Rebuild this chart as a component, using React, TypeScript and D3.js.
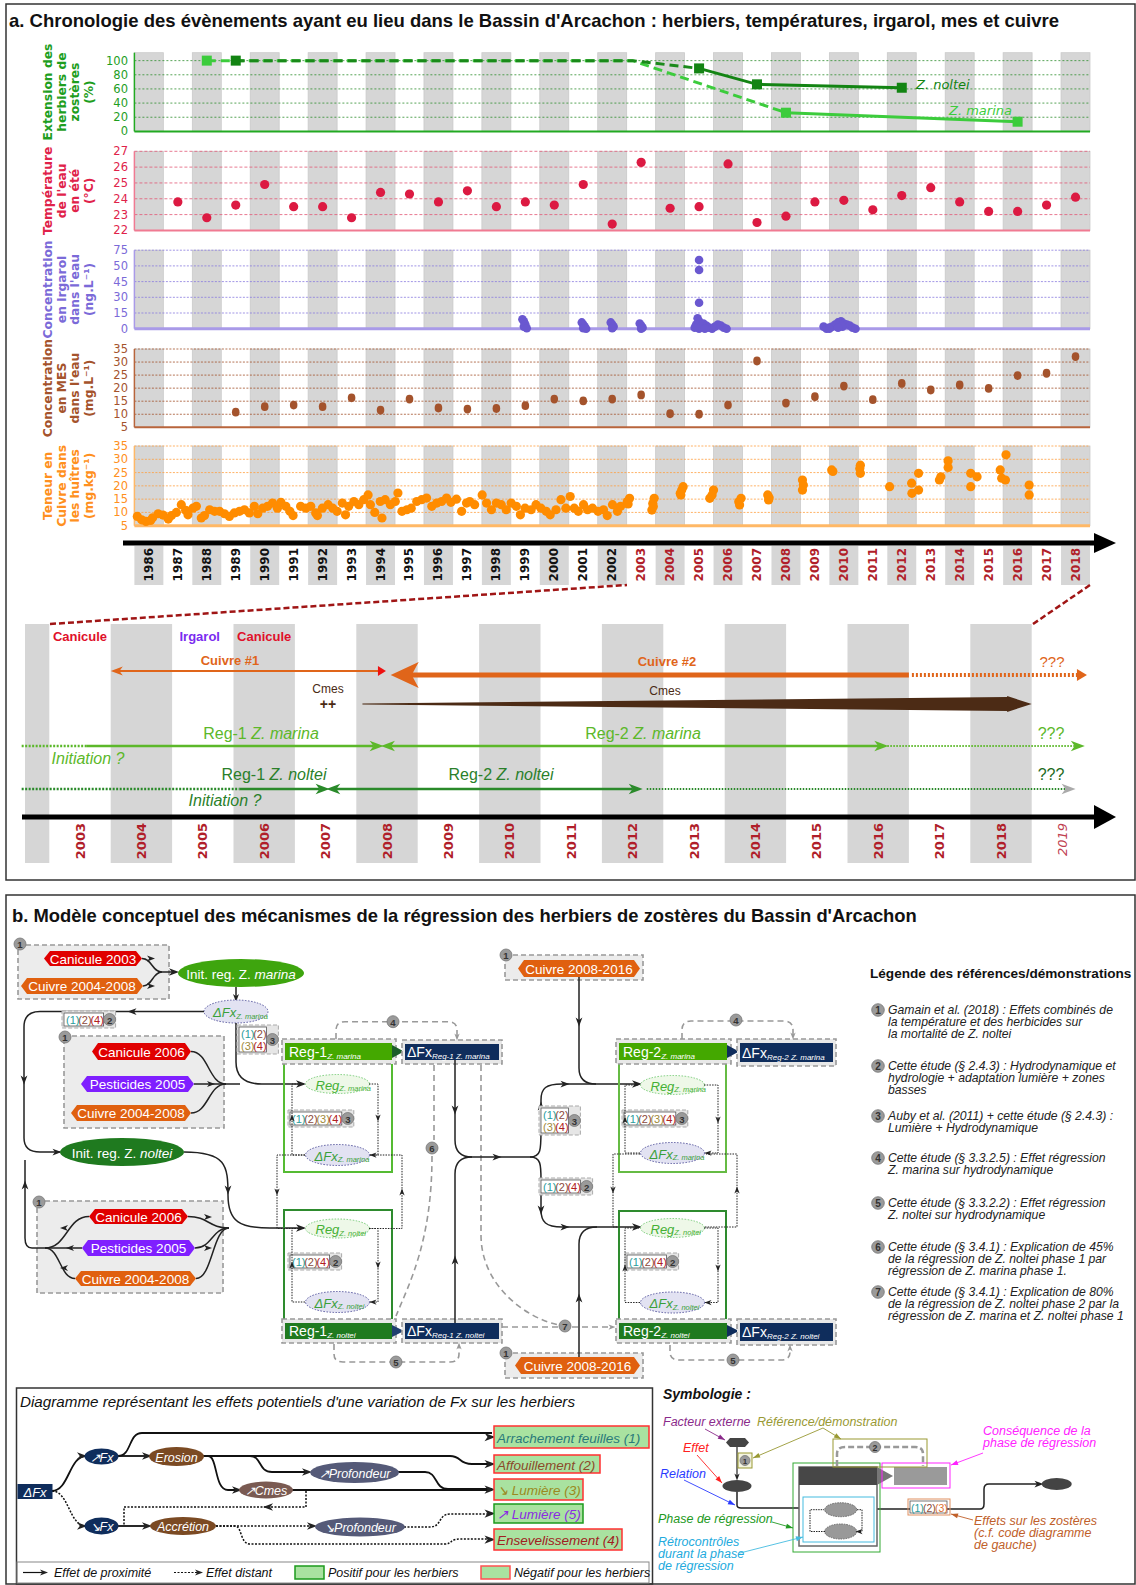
import React from 'react';
import * as d3 from 'd3';

const W = 1136;
const H = 1585;
const SANS = "'Liberation Sans', Arial, sans-serif";
const NARROW = "'Liberation Sans Narrow', 'Liberation Sans', Arial, sans-serif";
const DJ = "'DejaVu Sans', sans-serif";

// ---------- data : panel a ----------
const years = d3.range(1986, 2019);

const marinaYears = [1988, 2008, 2016];
const marinaValues = [100, 26.4, 13.7];
const nolteiYears = [1989, 2005, 2007, 2012];
const nolteiValues = [100, 89, 66.5, 61.7];
const declineStart = 2002.7; // both meadows stay at 100 % until here

const tempYears = d3.range(1987, 2019);
const tempValues = [23.8, 22.8, 23.6, 24.9, 23.5, 23.5, 22.8, 24.4, 24.3, 23.8, 24.5, 23.5, 23.8, 23.6, 24.9, 22.4,
  26.3, 23.4, 23.5, 26.2, 22.5, 22.9, 23.8, 23.9, 23.3, 24.2, 24.7, 23.8, 23.2, 23.2, 23.6, 24.1];

// irgarol samples: [decimal date, ng/L]
const irgarolSamples = [
  [1999.4, 9], [1999.45, 7], [1999.5, 4], [1999.45, 2], [1999.55, 0.5],
  [2001.45, 6], [2001.5, 4], [2001.55, 2], [2001.5, 0.5], [2001.6, 0],
  [2002.45, 6], [2002.5, 4], [2002.55, 2], [2002.5, 0.5],
  [2003.45, 5], [2003.5, 3], [2003.55, 1], [2003.5, 0],
  [2005.5, 59.5], [2005.5, 48.7], [2005.5, 24.8], [2005.45, 10], [2005.5, 7], [2005.4, 4], [2005.55, 2],
  [2005.5, 0], [2005.35, 1], [2005.65, 5], [2005.75, 3], [2005.85, 1], [2005.95, 0], [2006.05, 2],
  [2006.15, 4], [2006.25, 3], [2006.35, 1], [2006.45, 0], [2005.7, 0],
  [2009.8, 2], [2009.9, 0], [2010.0, 1], [2010.1, 2], [2010.2, 4], [2010.3, 6], [2010.4, 7], [2010.5, 5],
  [2010.6, 4], [2010.7, 3], [2010.8, 1], [2010.9, 0], [2010.0, 0], [2010.45, 2], [2010.3, 1],
];
const irgarolTicks = [0, 15, 30, 45, 50, 75];

const mesYears = d3.range(1989, 2019);
const mesValues = [10.8, 12.9, 13.5, 12.9, 16.3, 11.6, 15.8, 12.4, 12.0, 12.2, 13.3, 15.8, 15.1, 15.8, 17.4,
  10.2, 10.0, 13.5, 30.4, 14.3, 16.7, 20.8, 15.6, 21.8, 19.3, 21.2, 19.9, 24.8, 25.7, 32.1];

// copper in oysters: [decimal date, mg/kg]
const copperSamples = [
  [1986.10, 8.5], [1986.25, 7.2], [1986.40, 6.6], [1986.56, 7.0], [1986.63, 8.0], [1986.82, 9.5], [1986.99, 9.0],
  [1987.17, 7.5], [1987.28, 8.8], [1987.45, 10], [1987.62, 12.9], [1987.77, 10.8], [1987.85, 9.1],
  [1988.02, 11.6], [1988.14, 12.3], [1988.31, 7.9], [1988.42, 8.8], [1988.60, 11], [1988.77, 10.4], [1988.94, 10.4],
  [1989.11, 9.5], [1989.28, 8.5], [1989.45, 9.8], [1989.63, 10.4], [1989.80, 11], [1989.97, 9.8],
  [1990.14, 12.3], [1990.26, 9.5], [1990.43, 11.6], [1990.60, 12.3], [1990.77, 13.5], [1990.94, 11.6],
  [1991.06, 13.8], [1991.23, 12.3], [1991.37, 10.4], [1991.48, 8.8], [1991.74, 12.3], [1991.92, 11.6],
  [1992.09, 12.3], [1992.26, 9.8], [1992.32, 8.8], [1992.49, 11.6], [1992.69, 12.9], [1992.85, 11.6],
  [1993.00, 10.4], [1993.18, 13.5], [1993.29, 9.1], [1993.40, 12.3], [1993.58, 14.1], [1993.75, 12.9], [1993.92, 14.8],
  [1994.07, 16.6], [1994.15, 12.9], [1994.30, 10], [1994.49, 14.1], [1994.55, 7.9], [1994.66, 14.8], [1994.84, 12.9],
  [1995.01, 14.1], [1995.10, 17.3], [1995.24, 10.4], [1995.41, 11], [1995.56, 11.6], [1995.75, 14.1], [1995.92, 14.8],
  [1996.09, 15.4], [1996.27, 12.3], [1996.44, 13.5], [1996.61, 14.1], [1996.78, 15.4], [1996.93, 13.8],
  [1997.12, 15], [1997.30, 10.4], [1997.47, 13.5], [1997.58, 14.1], [1997.75, 12.9],
  [1998.01, 16.6], [1998.16, 13.5], [1998.33, 11], [1998.50, 13.5], [1998.67, 12.9], [1998.84, 11],
  [1999.01, 13.5], [1999.19, 12.3], [1999.33, 9.1], [1999.49, 11.6], [1999.70, 11], [1999.87, 12.9],
  [2000.04, 11.6], [2000.22, 10.4], [2000.36, 9.1], [2000.56, 11], [2000.73, 14.8], [2000.90, 11.6],
  [2001.05, 16], [2001.19, 11.6], [2001.33, 10.4], [2001.51, 12.9], [2001.65, 11], [2001.82, 11.6],
  [2002.01, 10.4], [2002.20, 11], [2002.33, 8.8], [2002.51, 12.9], [2002.68, 10.4], [2002.79, 12.3],
  [2003.02, 14.1], [2003.10, 15.3], [2003.05, 13.2],
  [2003.87, 10.9], [2003.90, 13.4], [2003.95, 15.3], [2003.92, 12.2],
  [2004.87, 16.6], [2004.90, 18.4], [2004.95, 19.7], [2004.85, 17.2],
  [2005.87, 15.3], [2006.00, 18.4], [2005.95, 16.6],
  [2006.87, 14], [2006.90, 12.8], [2006.95, 15.3],
  [2007.87, 16.6], [2007.90, 14.7], [2007.92, 15.5],
  [2009.07, 18.4], [2009.07, 22.2], [2009.10, 20.3],
  [2010.08, 26], [2010.12, 25.4],
  [2011.07, 27.8], [2011.07, 24.7], [2011.05, 26.5],
  [2012.08, 19.7], [2012.84, 21], [2012.85, 17.2], [2013.08, 24.7], [2013.08, 18.4],
  [2013.80, 22.2], [2013.85, 23.4], [2014.10, 29.4], [2014.10, 26.9],
  [2014.88, 24.7], [2014.88, 19.7], [2015.10, 23.4],
  [2015.90, 26], [2015.95, 22.9], [2016.10, 31.7], [2016.08, 22.2],
  [2016.90, 20.3], [2016.90, 16.6],
];

// ---------- data : zoomed timeline 2003-2019 ----------
const zoomYears = d3.range(2003, 2020);
const zoomEvents = [
  { label: 'Canicule', year: 2003.5, color: '#e0102a' },
  { label: 'Irgarol', year: 2005.45, color: '#7a2bf0' },
  { label: 'Canicule', year: 2006.5, color: '#e0102a' },
];
const cuivre1 = [2004.05, 2008.45];
const cuivre2 = [2008.56, 2017.0, 2019.9];
const cmesSpan = [2008.1, 2018.6, 2019.0];
const marinaPhases = { dottedStart: 2002.55, reg1: [2003.6, 2008.38], reg2: [2008.45, 2016.6], end: 2019.8 };
const nolteiPhases = { dottedStart: 2002.55, reg1: [2006.1, 2007.5], reg2: [2007.56, 2012.6], end: 2019.65 };

// ---------- data : legend of references ----------
const refLegend = [
  ['Gamain et al. (2018) : Effets combinés de', 'la température et des herbicides sur', 'la mortalité de Z. noltei'],
  ['Cette étude (§ 2.4.3) : Hydrodynamique et', 'hydrologie + adaptation lumière + zones', 'basses'],
  ['Auby et al. (2011) + cette étude (§ 2.4.3) :', 'Lumière + Hydrodynamique'],
  ['Cette étude (§ 3.3.2.5) : Effet régression', 'Z. marina sur hydrodynamique'],
  ['Cette étude (§ 3.3.2.2) : Effet régression', 'Z. noltei sur hydrodynamique'],
  ['Cette étude (§ 3.4.1) : Explication de 45%', 'de la régression de Z. noltei phase 1 par', 'régression de Z. marina phase 1.'],
  ['Cette étude (§ 3.4.1) : Explication de 80%', 'de la régression de Z. noltei phase 2 par la', 'régression de Z. marina et Z. noltei phase 1'],
];
const refLegendY = [1010, 1066, 1116, 1158, 1203, 1247, 1292];
const refColors = { 1: '#2a9d9d', 2: '#8b4a3a', 3: '#a08a3a', 4: '#b02020' };

// ---------- small drawing helpers ----------
const lk = (a, b) => d3.linkHorizontal()({ source: a, target: b });

const Tri = ({ x, y, dir = 'r', s = 5, fill = '#222' }) => {
  const a = { r: 0, d: 90, l: 180, u: -90 }[dir];
  return <polygon points={`${s},0 ${-s},${-s * 0.75} ${-s * 0.45},0 ${-s},${s * 0.75}`}
    transform={`translate(${x},${y}) rotate(${a})`} fill={fill} />;
};

const Badge = ({ x, y, n, r = 6 }) => (
  <g>
    <circle cx={x} cy={y} r={r} fill="#9a9a9a" stroke="#777" strokeWidth={0.8} />
    <text x={x} y={y + 0.5} textAnchor="middle" dominantBaseline="central" fontSize={r * 1.6}
      fontWeight="bold" fill="#333" fontFamily={SANS}>{n}</text>
  </g>
);

const DashBox = ({ x1, y1, x2, y2, fill = '#ececec' }) => (
  <rect x={x1} y={y1} width={x2 - x1} height={y2 - y1} fill={fill} stroke="#999" strokeWidth={1.6} strokeDasharray="5,3" />
);

const Hex = ({ x1, x2, y1, y2, fill, label, size = 13.5 }) => {
  const ym = (y1 + y2) / 2;
  const p = 6;
  return (
    <g>
      <polygon points={`${x1},${ym} ${x1 + p},${y1} ${x2 - p},${y1} ${x2},${ym} ${x2 - p},${y2} ${x1 + p},${y2}`} fill={fill} />
      <text x={(x1 + x2) / 2} y={ym + 0.5} textAnchor="middle" dominantBaseline="central" fill="#fff"
        fontSize={size} fontFamily={SANS}>{label}</text>
    </g>
  );
};

const RefBadge = ({ x, y, rows, n }) => {
  const cw = 12.2;
  const rh = 12;
  const w = Math.max(...rows.map(r => r.length)) * cw + 3;
  const h = rows.length * rh + 1;
  return (
    <g>
      <rect x={x - 2} y={y - 2} width={w + 14} height={h + 4} fill="#e6e6e6" stroke="#aaa" strokeDasharray="4,2" />
      <rect x={x} y={y} width={w} height={h} fill="#fff" stroke="#555" strokeWidth={0.8} />
      {rows.map((r, ri) => r.map((k, ki) => (
        <text key={`${ri}-${ki}`} x={x + 2 + ki * cw} y={y + rh * ri + rh / 2 + 1} dominantBaseline="central"
          fontSize={11} fill={refColors[k]} fontFamily={SANS}>({k})</text>
      )))}
      <Badge x={x + w + 6} y={y + h / 2} n={n} />
    </g>
  );
};

const RegEll = ({ cx, cy, sub, color = '#45b035' }) => (
  <g>
    <ellipse cx={cx} cy={cy} rx={32} ry={9.5} fill="#eef8e8" stroke="#7c7" strokeDasharray="1.5,1.5" />
    <text x={cx - 22} y={cy + 1} dominantBaseline="central" fontSize={13} fontStyle="italic" fill={color} fontFamily={SANS}>
      Reg<tspan fontSize={7.5} dy={3}>{sub}</tspan>
    </text>
  </g>
);

const FxEll = ({ cx, cy, sub, rx = 32, ry = 10.5 }) => (
  <g>
    <ellipse cx={cx} cy={cy} rx={rx} ry={ry} fill="#e2e2f2" stroke="#5a5aa0" strokeDasharray="1.5,1.5" />
    <text x={cx - rx + 9} y={cy + 1} dominantBaseline="central" fontSize={13} fontStyle="italic" fill="#3aa03a" fontFamily={SANS}>
      ΔFx<tspan fontSize={7.5} dy={3}>{sub}</tspan>
    </text>
  </g>
);

const Header = ({ x1, x2, y1, y2, fill, main, sub }) => (
  <g>
    <DashBox x1={x1 - 3} y1={y1 - 4} x2={x2 + 4} y2={y2 + 4} fill="#e8e8e8" />
    <rect x={x1} y={y1} width={x2 - x1} height={y2 - y1} fill={fill} />
    <text x={x1 + 4} y={(y1 + y2) / 2} dominantBaseline="central" fontSize={14} fill="#fff" fontFamily={SANS}>
      {main}<tspan fontSize={8} dy={4} fontStyle="italic">{sub}</tspan>
    </text>
  </g>
);

const NavyBox = ({ x1, x2, y1, y2, sub }) => (
  <g>
    <DashBox x1={x1 - 3} y1={y1 - 4} x2={x2 + 3} y2={y2 + 4} fill="#e8e8e8" />
    <rect x={x1} y={y1} width={x2 - x1} height={y2 - y1} fill="#0f2d5c" />
    <text x={x1 + 2} y={(y1 + y2) / 2} dominantBaseline="central" fontSize={14} fill="#fff" fontFamily={SANS}>
      ΔFx<tspan fontSize={8} dy={4} fontStyle="italic">{sub}</tspan>
    </text>
  </g>
);

const Chevron = ({ x, y1, y2, fill = '#1d5e2a' }) => (
  <polygon points={`${x},${y1 + 2} ${x + 12},${(y1 + y2) / 2} ${x},${y2 - 2}`} fill={fill} />
);

// ---------- panel a : time series ----------
const ChartA = () => {
  const x = d3.scaleLinear().domain([1986, 2019]).range([134.4, 1090]);
  const mid = (yr) => x(yr + 0.5);

  const panels = [
    {
      key: 'herb', y: d3.scaleLinear().domain([0, 111.2]).range([131.4, 52.7]), ticks: [0, 20, 40, 60, 80, 100],
      color: '#1e9e1e', grid: '#2f8f2f', dash: '2,2', axis: '#22aa22', axisW: 2,
      label: ['Extension des', 'herbiers de', 'zostères', '(%)'],
    },
    {
      key: 'temp', y: d3.scaleLinear().domain([22, 27]).range([230.4, 151.3]), ticks: [22, 23, 24, 25, 26, 27],
      color: '#e0224a', grid: '#e35a78', dash: '3,2', axis: '#f07a92', axisW: 2,
      label: ['Température', "de l'eau", 'en été', '(°C)'],
    },
    {
      key: 'irg', y: d3.scaleLinear().domain(irgarolTicks).range([328.7, 313, 297.3, 281.6, 265.9, 250.2]), ticks: irgarolTicks,
      color: '#7b6ad8', grid: '#8a7ce0', dash: '2,1.5', axis: '#a99ae8', axisW: 3,
      label: ['Concentration', 'en irgarol', "dans l'eau", '(ng.L⁻¹)'],
    },
    {
      key: 'mes', y: d3.scaleLinear().domain([5, 35]).range([427.3, 349]), ticks: [5, 10, 15, 20, 25, 30, 35],
      color: '#a4532c', grid: '#a4532c', dash: '2,1.5', axis: '#b8653c', axisW: 2,
      label: ['Concentration', 'en MES', "dans l'eau", '(mg.L⁻¹)'],
    },
    {
      key: 'cu', y: d3.scaleLinear().domain([5, 35]).range([525.7, 446]), ticks: [5, 10, 15, 20, 25, 30, 35],
      color: '#ff9020', grid: '#ffa040', dash: '2,1.5', axis: '#ffb866', axisW: 3,
      label: ['Teneur en', 'Cuivre dans', 'les huîtres', '(mg.kg⁻¹)'],
    },
  ];
  const P = Object.fromEntries(panels.map(p => [p.key, p]));
  const labelX = [48, 61.5, 75, 88.5];

  const lineGen = d3.line().x(d => d[0]).y(d => d[1]);
  const hy = P.herb.y;
  const marinaDash = [[mid(marinaYears[0]), hy(100)], [x(declineStart + 0.5), hy(100)], [mid(marinaYears[1]), hy(marinaValues[1])]];
  const nolteiDash = [[mid(nolteiYears[0]), hy(100)], [x(declineStart + 0.5), hy(100)], [mid(nolteiYears[1]), hy(nolteiValues[1])]];
  const marinaSolid = marinaYears.slice(1).map((yr, i) => [mid(yr), hy(marinaValues[i + 1])]);
  const nolteiSolid = nolteiYears.slice(1).map((yr, i) => [mid(yr), hy(nolteiValues[i + 1])]);

  return (
    <g>
      {panels.map(p => {
        const r = p.y.range();
        const y0 = r[0];
        const y1 = r[r.length - 1];
        const ym = (y0 + y1) / 2;
        return (
          <g key={p.key}>
            {years.filter(yr => yr % 2 === 0).map(yr => (
              <rect key={yr} x={x(yr)} y={y1} width={x(yr + 1) - x(yr)} height={y0 - y1} fill="#d6d6d6" stroke="#cacaca" strokeWidth={0.8} />
            ))}
            {p.ticks.slice(1).map(t => (
              <line key={t} x1={x(1986)} x2={x(2019)} y1={p.y(t)} y2={p.y(t)} stroke={p.grid} strokeWidth={1} strokeDasharray={p.dash} opacity={0.8} />
            ))}
            <line x1={x(1986)} x2={x(2019)} y1={y0} y2={y0} stroke={p.axis} strokeWidth={p.axisW} />
            <line x1={x(1986)} x2={x(1986)} y1={y1} y2={y0} stroke={p.axis} strokeWidth={1.5} />
            {p.ticks.map(t => (
              <text key={t} x={128} y={p.y(t)} textAnchor="end" dominantBaseline="central" fontSize={11.5}
                fill={p.color} fontFamily={DJ}>{t}</text>
            ))}
            {p.label.map((s, i) => (
              <text key={i} transform={`translate(${labelX[i]},${ym}) rotate(-90)`} textAnchor="middle"
                dominantBaseline="central" fontSize={12.3} fontWeight="bold" fill={p.color} fontFamily={DJ}>{s}</text>
            ))}
          </g>
        );
      })}

      {/* herbiers */}
      <path d={lineGen(marinaDash)} fill="none" stroke="#3ccc3c" strokeWidth={3} strokeDasharray="9,5" />
      <path d={lineGen(nolteiDash)} fill="none" stroke="#1a8a1a" strokeWidth={3} strokeDasharray="9,5" />
      <path d={lineGen(marinaSolid)} fill="none" stroke="#3ccc3c" strokeWidth={3} />
      <path d={lineGen(nolteiSolid)} fill="none" stroke="#138413" strokeWidth={3} />
      {marinaYears.map((yr, i) => (
        <rect key={yr} x={mid(yr) - 5} y={hy(marinaValues[i]) - 5} width={10} height={10} fill="#3ccc3c" />
      ))}
      {nolteiYears.map((yr, i) => (
        <rect key={yr} x={mid(yr) - 5} y={hy(nolteiValues[i]) - 5} width={10} height={10} fill="#138413" />
      ))}
      <text x={916} y={hy(66)} dominantBaseline="central" fontSize={13} fontStyle="italic" fill="#138413" fontFamily={DJ}>Z. noltei</text>
      <text x={949} y={hy(29)} dominantBaseline="central" fontSize={13} fontStyle="italic" fill="#3ccc3c" fontFamily={DJ}>Z. marina</text>

      {/* temperature */}
      {tempYears.map((yr, i) => (
        <circle key={yr} cx={mid(yr)} cy={P.temp.y(tempValues[i])} r={4.6} fill="#dc1a42" />
      ))}
      {/* irgarol */}
      {irgarolSamples.map((d, i) => (
        <circle key={i} cx={x(d[0])} cy={P.irg.y(d[1])} r={4.3} fill="#6a58d0" />
      ))}
      {/* MES */}
      {mesYears.map((yr, i) => (
        <ellipse key={yr} cx={mid(yr)} cy={P.mes.y(mesValues[i])} rx={3.8} ry={4.4} fill="#a4532c" />
      ))}
      {/* copper */}
      {copperSamples.map((d, i) => (
        <circle key={i} cx={x(d[0])} cy={P.cu.y(d[1])} r={4.6} fill="#ff8c00" />
      ))}

      {/* time axis */}
      {years.filter(yr => yr % 2 === 0).map(yr => (
        <rect key={yr} x={x(yr)} y={546} width={x(yr + 1) - x(yr)} height={39} fill="#d6d6d6" />
      ))}
      <line x1={123} x2={1098} y1={543} y2={543} stroke="#000" strokeWidth={5} />
      <polygon points="1094,533 1116,543 1094,553" fill="#000" />
      {years.map(yr => (
        <text key={yr} transform={`translate(${mid(yr)},548) rotate(-90)`} textAnchor="end" dominantBaseline="central"
          fontSize={12} fontWeight="bold" fill={yr < 2003 ? '#111' : '#b01e2a'} fontFamily={DJ}>{yr}</text>
      ))}
    </g>
  );
};

// ---------- zoomed timeline ----------
const Timeline = () => {
  const xl = d3.scaleLinear().domain([2003, 2020]).range([49.3, 1093.1]);
  const mid = (yr) => xl(yr + 0.5);
  const bandYears = [2002, ...zoomYears.filter(yr => yr % 2 === 0)];
  const mY = 746;
  const nY = 789;
  const c2 = cuivre2.map(xl);
  const cm = cmesSpan.map(xl);
  return (
    <g fontFamily={NARROW}>
      {bandYears.map(yr => {
        const a = Math.max(25, xl(yr));
        return <rect key={yr} x={a} y={624} width={xl(yr + 1) - a} height={239} fill="#d6d6d6" />;
      })}
      {/* zoom connectors */}
      <line x1={50} y1={624} x2={627} y2={585} stroke="#a01515" strokeWidth={2.5} strokeDasharray="6,3" />
      <line x1={1033} y1={624} x2={1090} y2={585} stroke="#a01515" strokeWidth={2.5} strokeDasharray="6,3" />

      {zoomEvents.map((e, i) => (
        <text key={i} x={xl(e.year)} y={636} textAnchor="middle" dominantBaseline="central" fontSize={13}
          fontWeight="bold" fill={e.color}>{e.label}</text>
      ))}

      {/* copper */}
      <text x={230} y={660} textAnchor="middle" dominantBaseline="central" fontSize={13} fontWeight="bold" fill="#e0651a">Cuivre #1</text>
      <line x1={xl(cuivre1[0]) + 4} x2={xl(cuivre1[1])} y1={671} y2={671} stroke="#e0651a" strokeWidth={2} />
      <Tri x={xl(cuivre1[0]) + 3} y={671} dir="l" s={6} fill="#e0651a" />
      <polygon points={`${xl(cuivre1[1]) - 6},666 ${xl(cuivre1[1]) + 2},671 ${xl(cuivre1[1]) - 6},676`} fill="#ee1111" />
      <text x={667} y={661} textAnchor="middle" dominantBaseline="central" fontSize={13} fontWeight="bold" fill="#e0651a">Cuivre #2</text>
      <line x1={c2[0] + 20} x2={c2[1]} y1={675} y2={675} stroke="#e0651a" strokeWidth={5} />
      <polygon points={`${c2[0]},675 ${c2[0] + 28},662 ${c2[0] + 21},675 ${c2[0] + 28},688`} fill="#e0651a" />
      <line x1={c2[1] + 3} x2={c2[2] - 8} y1={675} y2={675} stroke="#e0651a" strokeWidth={4} strokeDasharray="2,2" />
      <polygon points={`${c2[2] - 10},669 ${c2[2]},675 ${c2[2] - 10},681`} fill="#e0651a" />
      <text x={1052} y={661} textAnchor="middle" dominantBaseline="central" fontSize={15} fill="#e0651a">???</text>

      {/* MES */}
      <text x={328} y={689} textAnchor="middle" dominantBaseline="central" fontSize={12} fill="#4a2a14">Cmes</text>
      <text x={328} y={704} textAnchor="middle" dominantBaseline="central" fontSize={14} fontWeight="bold" fill="#4a2a14">++</text>
      <text x={665} y={691} textAnchor="middle" dominantBaseline="central" fontSize={12} fill="#4a2a14">Cmes</text>
      <polygon points={`${cm[0]},703.5 ${cm[1]},697 ${cm[1]},696 ${cm[2]},704 ${cm[1]},712 ${cm[1]},711 ${cm[0]},704.5`} fill="#4c2b15" />

      {/* Z. marina */}
      <text x={261} y={733} textAnchor="middle" dominantBaseline="central" fontSize={16} fill="#5cb82a">
        Reg-1 <tspan fontStyle="italic">Z. marina</tspan></text>
      <text x={643} y={733} textAnchor="middle" dominantBaseline="central" fontSize={16} fill="#5cb82a">
        Reg-2 <tspan fontStyle="italic">Z. marina</tspan></text>
      <text x={1051} y={733} textAnchor="middle" dominantBaseline="central" fontSize={16} fill="#5cb82a">???</text>
      <text x={88} y={758} textAnchor="middle" dominantBaseline="central" fontSize={16} fontStyle="italic" fill="#5cb82a">Initiation ?</text>
      <line x1={xl(marinaPhases.dottedStart)} x2={xl(marinaPhases.reg1[0])} y1={mY} y2={mY} stroke="#5cb82a" strokeWidth={2.5} strokeDasharray="2,1.5" />
      <line x1={xl(marinaPhases.reg1[0])} x2={xl(marinaPhases.reg1[1]) - 6} y1={mY} y2={mY} stroke="#5cb82a" strokeWidth={2.5} />
      <Tri x={xl(marinaPhases.reg1[1]) - 3} y={mY} s={7} fill="#5cb82a" />
      <Tri x={xl(marinaPhases.reg2[0]) + 4} y={mY} dir="l" s={7} fill="#5cb82a" />
      <line x1={xl(marinaPhases.reg2[0]) + 6} x2={xl(marinaPhases.reg2[1]) - 6} y1={mY} y2={mY} stroke="#5cb82a" strokeWidth={2.5} />
      <Tri x={xl(marinaPhases.reg2[1]) - 3} y={mY} s={7} fill="#5cb82a" />
      <line x1={xl(marinaPhases.reg2[1])} x2={xl(marinaPhases.end) - 6} y1={mY} y2={mY} stroke="#5cb82a" strokeWidth={2} strokeDasharray="1.5,1.5" />
      <Tri x={xl(marinaPhases.end) - 3} y={mY} s={7} fill="#5cb82a" />

      {/* Z. noltei */}
      <text x={274} y={774} textAnchor="middle" dominantBaseline="central" fontSize={16} fill="#2a7f2a">
        Reg-1 <tspan fontStyle="italic">Z. noltei</tspan></text>
      <text x={501} y={774} textAnchor="middle" dominantBaseline="central" fontSize={16} fill="#2a7f2a">
        Reg-2 <tspan fontStyle="italic">Z. noltei</tspan></text>
      <text x={1051} y={774} textAnchor="middle" dominantBaseline="central" fontSize={16} fill="#1d6b1d">???</text>
      <text x={225} y={800} textAnchor="middle" dominantBaseline="central" fontSize={16} fontStyle="italic" fill="#2a7f2a">Initiation ?</text>
      <line x1={xl(nolteiPhases.dottedStart)} x2={xl(nolteiPhases.reg1[0])} y1={nY} y2={nY} stroke="#2a8a2a" strokeWidth={2.5} strokeDasharray="2,1.5" />
      <line x1={xl(nolteiPhases.reg1[0])} x2={xl(nolteiPhases.reg1[1]) - 6} y1={nY} y2={nY} stroke="#2a8a2a" strokeWidth={2.5} />
      <Tri x={xl(nolteiPhases.reg1[1]) - 3} y={nY} s={7} fill="#2a8a2a" />
      <Tri x={xl(nolteiPhases.reg2[0]) + 4} y={nY} dir="l" s={7} fill="#2a8a2a" />
      <line x1={xl(nolteiPhases.reg2[0]) + 6} x2={xl(nolteiPhases.reg2[1]) - 6} y1={nY} y2={nY} stroke="#2a8a2a" strokeWidth={2.5} />
      <Tri x={xl(nolteiPhases.reg2[1]) - 3} y={nY} s={7} fill="#2a8a2a" />
      <line x1={xl(nolteiPhases.reg2[1]) + 8} x2={xl(nolteiPhases.end) - 6} y1={nY} y2={nY} stroke="#2a8a2a" strokeWidth={2} strokeDasharray="1.5,1.5" />
      <Tri x={xl(nolteiPhases.end) - 3} y={nY} s={7} fill="#aaa" />

      {/* axis */}
      <line x1={22} x2={1098} y1={817} y2={817} stroke="#000" strokeWidth={5} />
      <polygon points="1094,805 1116,817 1094,829" fill="#000" />
      {zoomYears.map(yr => (
        <text key={yr} transform={`translate(${mid(yr)},823) rotate(-90)`} textAnchor="end" dominantBaseline="central"
          fontSize={13} fontWeight={yr === 2019 ? 'normal' : 'bold'} fontStyle={yr === 2019 ? 'italic' : 'normal'}
          fill={yr === 2019 ? '#c04050' : '#b01e2a'} fontFamily={DJ}>{yr}</text>
      ))}
    </g>
  );
};

// ---------- panel b : conceptual model ----------
const ModelB = () => {
  const dash = { fill: 'none', stroke: '#999', strokeWidth: 1.6, strokeDasharray: '6,4' };
  const dot = { fill: 'none', stroke: '#222', strokeWidth: 1, strokeDasharray: '1.5,1.2' };
  const solid = { fill: 'none', stroke: '#222', strokeWidth: 1.5 };
  return (
    <g fontFamily={SANS}>
      {/* group 1 : canicule 2003 */}
      <DashBox x1={18} y1={945} x2={169} y2={999} />
      <Badge x={20} y={944} n={1} />
      <Hex x1={44} x2={142} y1={951} y2={966} fill="#e00000" label="Canicule 2003" />
      <Hex x1={21} x2={143} y1={978} y2={994} fill="#e0600f" label="Cuivre 2004-2008" />
      <path d={lk([142, 958.5], [162, 972])} {...solid} />
      <path d={lk([143, 986], [162, 972])} {...solid} />
      <path d="M162,972 L176,972" {...solid} />
      <Tri x={174} y={972} s={5} />
      <Tri x={151} y={958.5} s={4} />
      <Tri x={151} y={986} s={4} />

      <ellipse cx={241} cy={973} rx={63} ry={14} fill="#3ea50e" />
      <text x={241} y={974} textAnchor="middle" dominantBaseline="central" fontSize={13.5} fill="#fff">
        Init. reg. Z. <tspan fontStyle="italic">marina</tspan></text>
      <path d="M236,987 L236,999" {...solid} />
      <Tri x={236} y={998} dir="d" s={4} />
      <FxEll cx={236} cy={1011.5} sub="Z. marina" rx={32} ry={11.5} />

      {/* path to Init noltei */}
      <path d="M204,1011.5 L40,1011.5 Q24,1011.5 24,1027 L24,1138 Q24,1152 40,1152 L60,1152" {...solid} />
      <Tri x={132} y={1011.5} dir="l" s={4.5} />
      <Tri x={24} y={1080} dir="d" s={4.5} />
      <Tri x={57} y={1152} s={4.5} />
      <RefBadge x={64} y={1013} rows={[[1, 2, 4]]} n={2} />

      {/* path to Reg-1 marina */}
      <path d="M236,1023 L236,1062 Q236,1084 262,1084 L303,1084" {...solid} />
      <Tri x={301} y={1084} s={5} />
      <RefBadge x={239} y={1027} rows={[[1, 2], [3, 4]]} n={3} />

      {/* group 1 : 2005-2006 → marina */}
      <DashBox x1={64} y1={1036} x2={224} y2={1128} />
      <Badge x={65} y={1037} n={1} />
      <Hex x1={92} x2={191} y1={1043} y2={1060} fill="#e00000" label="Canicule 2006" />
      <Hex x1={81} x2={194} y1={1076} y2={1092} fill="#7f1fff" label="Pesticides 2005" />
      <Hex x1={71} x2={191} y1={1105} y2={1121} fill="#e0600f" label="Cuivre 2004-2008" />
      <path d={lk([191, 1051.5], [226, 1084])} {...solid} />
      <path d={lk([194, 1084], [226, 1084])} {...solid} />
      <path d={lk([191, 1113], [226, 1084])} {...solid} />
      <path d="M226,1084 L240,1084" {...solid} />
      <Tri x={211} y={1084} s={4} />

      {/* Init noltei */}
      <ellipse cx={122} cy={1152} rx={62} ry={14} fill="#1f7a1f" />
      <text x={122} y={1153} textAnchor="middle" dominantBaseline="central" fontSize={13.5} fill="#fff">
        Init. reg. Z. <tspan fontStyle="italic">noltei</tspan></text>
      <path d="M184,1152 C226,1152 228,1165 228,1195 C228,1222 240,1228 270,1228 L303,1228" {...solid} />
      <Tri x={228} y={1190} dir="d" s={4.5} />
      <Tri x={301} y={1228} s={5} />

      {/* group 1 : 2005-2006 → noltei */}
      <DashBox x1={37} y1={1201} x2={223} y2={1293} />
      <Badge x={39} y={1202} n={1} />
      <Hex x1={89} x2={188} y1={1209} y2={1224} fill="#e00000" label="Canicule 2006" />
      <Hex x1={82} x2={195} y1={1240} y2={1256} fill="#7f1fff" label="Pesticides 2005" />
      <Hex x1={75} x2={196} y1={1271} y2={1286} fill="#e0600f" label="Cuivre 2004-2008" />
      <path d={lk([188, 1216.5], [229, 1228])} {...solid} />
      <path d={lk([195, 1248], [229, 1228])} {...solid} />
      <path d={lk([196, 1278.5], [229, 1228])} {...solid} />
      <path d={lk([89, 1216.5], [45, 1248])} {...solid} />
      <path d={lk([82, 1248], [45, 1248])} {...solid} />
      <path d={lk([75, 1278.5], [45, 1248])} {...solid} />
      <path d="M45,1248 L32,1248 Q25,1248 25,1238 L25,1160" {...solid} />
      <Tri x={25} y={1185} dir="u" s={4.5} />
      <Tri x={208} y={1217} s={4} />
      <Tri x={208} y={1248} s={4} />
      <Tri x={70} y={1248} dir="l" s={4} />
      <Tri x={64} y={1228} dir="l" s={4} />
      <Tri x={64} y={1268} dir="l" s={4} />

      {/* ===== Reg-1 blocks ===== */}
      <rect x={284} y={1043} width={108} height={129} fill="none" stroke="#55bb33" strokeWidth={2} />
      <Header x1={285} x2={392} y1={1043} y2={1060} fill="#44a800" main="Reg-1" sub="Z. marina" />
      <Chevron x={392} y1={1043} y2={1060} />
      <NavyBox x1={405} x2={499} y1={1044} y2={1060} sub="Reg-1 Z. marina" />
      <RegEll cx={337.5} cy={1084} sub="Z. marina" />
      <RefBadge x={290} y={1112} rows={[[1, 2, 3, 4]]} n={3} />
      <FxEll cx={337.5} cy={1155} sub="Z. marina" />
      <path d="M369,1084 L378,1084 L378,1155 L370,1155" {...dot} />
      <Tri x={378} y={1118} dir="d" s={3.5} />
      <Tri x={373} y={1155} dir="l" s={3.5} />
      <path d="M305,1155 L292,1155 L292,1084 L304,1084" {...dot} />
      <Tri x={292} y={1118} dir="u" s={3.5} />

      <rect x={284} y={1210} width={108} height={129} fill="none" stroke="#2e8b2e" strokeWidth={2} />
      <RegEll cx={337.5} cy={1228.5} sub="Z. noltei" />
      <RefBadge x={290} y={1255} rows={[[1, 2, 4]]} n={2} />
      <FxEll cx={337.5} cy={1302} sub="Z. noltei" />
      <path d="M369,1228.5 L378,1228.5 L378,1302 L370,1302" {...dot} />
      <Tri x={378} y={1265} dir="d" s={3.5} />
      <Tri x={373} y={1302} dir="l" s={3.5} />
      <path d="M305,1302 L292,1302 L292,1228.5 L304,1228.5" {...dot} />
      <Tri x={292} y={1265} dir="u" s={3.5} />
      <Header x1={285} x2={392} y1={1323} y2={1339} fill="#1f7a1f" main="Reg-1" sub="Z. noltei" />
      <Chevron x={392} y1={1323} y2={1339} fill="#1f3f6f" />
      <NavyBox x1={405} x2={499} y1={1323} y2={1339} sub="Reg-1 Z. noltei" />

      {/* inter-block feedback Reg-1 */}
      <path d="M305,1155 L277,1155 L277,1228.5 L305,1228.5" {...dot} />
      <Tri x={277} y={1192} dir="d" s={3.5} />
      <path d="M369,1228.5 L402,1228.5 L402,1155 L370,1155" {...dot} />
      <Tri x={402} y={1192} dir="u" s={3.5} />

      {/* "4" and "5" arcs, Reg-1 */}
      <path d="M336,1039 L336,1030 Q336,1021.7 345,1021.7 L448,1021.7 Q457,1021.7 457,1030 L457,1038" {...dash} />
      <Tri x={457} y={1037} dir="d" s={3.5} fill="#999" />
      <Badge x={393} y={1021.7} n={4} />
      <path d="M334,1344 L334,1354 Q334,1362 343,1362 L450,1362 Q459,1362 459,1354 L459,1345" {...dash} />
      <Tri x={459} y={1346} dir="u" s={3.5} fill="#999" />
      <Badge x={396} y={1362} n={5} />

      {/* "6" and "7" */}
      <path d="M434,1065 L434,1140" {...dash} />
      <path d="M432,1156 C432,1240 410,1282 396,1316" {...dash} />
      <Badge x={432} y={1148} n={6} />
      <path d="M481,1065 L481,1235 C481,1285 525,1318 559,1325" {...dash} />
      <path d="M502,1327 L613,1327" {...dash} />
      <Tri x={612} y={1327} s={3.5} fill="#999" />
      <Badge x={565} y={1326} n={7} />

      {/* solid links from Reg-1 ΔFx to Reg-2 */}
      <path d="M455,1060 L455,1140 Q455,1157 472,1157 L530,1157" {...solid} />
      <path d="M455,1323 L455,1174 Q455,1157 472,1157" {...solid} />
      <Tri x={455} y={1110} dir="d" s={4.5} />
      <Tri x={455} y={1260} dir="u" s={4.5} />
      <Tri x={497} y={1157} s={4.5} />
      <path d="M530,1157 C541,1157 541,1150 541,1130 L541,1100 C541,1088 546,1084 562,1084 L638,1084" {...solid} />
      <path d="M530,1157 C541,1157 541,1165 541,1180 L541,1210 C541,1222 546,1227 562,1227 L638,1227" {...solid} />
      <Tri x={565} y={1084} s={4.5} />
      <Tri x={565} y={1227} s={4.5} />
      <Tri x={541} y={1106} dir="u" s={4.5} />
      <Tri x={541} y={1210} dir="d" s={4.5} />
      <Tri x={637} y={1084} s={5} />
      <Tri x={637} y={1227} s={5} />
      <RefBadge x={541} y={1108} rows={[[1, 2], [3, 4]]} n={3} />
      <RefBadge x={541} y={1180} rows={[[1, 2, 4]]} n={2} />

      {/* Cuivre 2008-2016 */}
      <DashBox x1={505} y1={955} x2={643} y2={980} />
      <Badge x={506} y={955} n={1} />
      <Hex x1={518} x2={640} y1={960} y2={977} fill="#e0600f" label="Cuivre 2008-2016" />
      <path d="M579,977 L579,1068 Q579,1084 596,1084" {...solid} />
      <Tri x={579} y={1022} dir="d" s={4.5} />
      <DashBox x1={505} y1={1353} x2={643} y2={1378} />
      <Badge x={506} y={1353} n={1} />
      <Hex x1={515} x2={640} y1={1357} y2={1374} fill="#e0600f" label="Cuivre 2008-2016" />
      <path d="M579,1357 L579,1244 Q579,1227 597,1227" {...solid} />
      <Tri x={579} y={1298} dir="u" s={4.5} />

      {/* ===== Reg-2 blocks ===== */}
      <rect x={619} y={1043} width={107} height={129} fill="none" stroke="#66bb44" strokeWidth={2} />
      <Header x1={619} x2={727} y1={1043} y2={1060} fill="#44a800" main="Reg-2" sub="Z. marina" />
      <Chevron x={727} y1={1043} y2={1060} fill="#0f2d5c" />
      <NavyBox x1={740} x2={833} y1={1043} y2={1062} sub="Reg-2 Z. marina" />
      <RegEll cx={672.5} cy={1085} sub="Z. marina" />
      <RefBadge x={624} y={1112} rows={[[1, 2, 3, 4]]} n={3} />
      <FxEll cx={672.5} cy={1153} sub="Z. marina" />
      <path d="M704,1085 L718,1085 L718,1153 L705,1153" {...dot} />
      <Tri x={718} y={1120} dir="d" s={3.5} />
      <Tri x={708} y={1153} dir="l" s={3.5} />
      <path d="M640,1153 L625,1153 L625,1085 L639,1085" {...dot} />
      <Tri x={625} y={1120} dir="u" s={3.5} />

      <rect x={619} y={1211} width={107} height={128} fill="none" stroke="#2e8b2e" strokeWidth={2} />
      <RegEll cx={672.5} cy={1228} sub="Z. noltei" />
      <RefBadge x={627} y={1255} rows={[[1, 2, 4]]} n={2} />
      <FxEll cx={672.5} cy={1302.5} sub="Z. noltei" />
      <path d="M704,1228 L718,1228 L718,1302.5 L705,1302.5" {...dot} />
      <Tri x={718} y={1268} dir="d" s={3.5} />
      <Tri x={708} y={1302.5} dir="l" s={3.5} />
      <path d="M640,1302.5 L625,1302.5 L625,1228 L639,1228" {...dot} />
      <Tri x={625} y={1268} dir="u" s={3.5} />
      <Header x1={619} x2={727} y1={1323} y2={1339} fill="#1f7a1f" main="Reg-2" sub="Z. noltei" />
      <Chevron x={727} y1={1323} y2={1339} fill="#0f2d5c" />
      <NavyBox x1={740} x2={833} y1={1323} y2={1341} sub="Reg-2 Z. noltei" />

      <path d="M640,1154 L613,1154 L613,1227 L620,1227" {...dot} />
      <Tri x={613} y={1190} dir="d" s={3.5} />
      <path d="M705,1227 L737,1227 L737,1154 L706,1154" {...dot} />
      <Tri x={737} y={1190} dir="u" s={3.5} />

      <path d="M682,1039 L682,1030 Q682,1021 691,1021 L784,1021 Q793,1021 793,1030 L793,1037" {...dash} />
      <Tri x={793} y={1036} dir="d" s={3.5} fill="#999" />
      <Badge x={736} y={1020} n={4} />
      <path d="M670,1345 L670,1352 Q670,1360 679,1360 L781,1360 Q790,1360 790,1352 L790,1347" {...dash} />
      <Tri x={790} y={1348} dir="u" s={3.5} fill="#999" />
      <Badge x={733} y={1360} n={5} />

      {/* legend of references */}
      <text x={870} y={973} dominantBaseline="central" fontSize={13.6} fontWeight="bold" fill="#111">Légende des références/démonstrations</text>
      {refLegend.map((lines, i) => (
        <g key={i}>
          <Badge x={878} y={refLegendY[i]} n={i + 1} r={6.3} />
          {lines.map((s, j) => (
            <text key={j} x={888} y={refLegendY[i] + j * 12} dominantBaseline="central" fontSize={12.2}
              fontStyle="italic" fill="#222">{s}</text>
          ))}
        </g>
      ))}
    </g>
  );
};

// ---------- Fx diagram (bottom left) ----------
const FxDiagram = () => {
  const solid = { fill: 'none', stroke: '#111', strokeWidth: 1.8 };
  const dot = { fill: 'none', stroke: '#111', strokeWidth: 1.5, strokeDasharray: '2,1.5' };
  const out = [
    { label: 'Arrachement feuilles (1)', y1: 1426, y2: 1448, x2: 649, color: '#2a7a7a', border: '#ff3030' },
    { label: 'Affouillement (2)', y1: 1455, y2: 1473, x2: 600, color: '#8b4a2a', border: '#ff3030' },
    { label: '↘ Lumière (3)', y1: 1479, y2: 1500, x2: 583, color: '#9a8a20', border: '#ff3030' },
    { label: '↗ Lumière (5)', y1: 1504, y2: 1523, x2: 583, color: '#8a2be2', border: '#1d9a1d' },
    { label: 'Ensevelissement (4)', y1: 1529, y2: 1550, x2: 622, color: '#a02020', border: '#ff3030' },
  ];
  const ell = (cx, cy, rx, ry, fill, label) => (
    <g>
      <ellipse cx={cx} cy={cy} rx={rx} ry={ry} fill={fill} />
      <text x={cx} y={cy + 1} textAnchor="middle" dominantBaseline="central" fontSize={12.5} fontStyle="italic" fill="#fff">{label}</text>
    </g>
  );
  return (
    <g fontFamily={SANS}>
      <rect x={16.5} y={1388} width={636} height={196} fill="none" stroke="#333" strokeWidth={1.5} />
      <text x={20} y={1407} fontSize={15.2} fontStyle="italic" fill="#111">Diagramme représentant les effets potentiels d'une variation de Fx sur les herbiers</text>

      {/* links */}
      <path d={lk([52, 1491], [86, 1456])} {...solid} />
      <path d={lk([52, 1491], [86, 1526])} {...dot} />
      <path d="M118,1456 L150,1456" {...solid} />
      <path d="M118,1456 C132,1456 128,1433 142,1433 L492,1433" {...solid} />
      <path d="M203,1456 L450,1456 C462,1456 458,1464 472,1464 L492,1464" {...solid} />
      <path d="M250,1456 C262,1456 258,1472 272,1472 L309,1472" {...solid} />
      <path d="M208,1456 C218,1456 214,1490 228,1490 L239,1490" {...solid} />
      <path d="M398,1472 L425,1472 C438,1472 434,1489 448,1489 L492,1489" {...solid} />
      <path d="M292,1490 L492,1490" {...solid} />
      <path d="M306,1491 L306,1507 L124,1507 L124,1526" {...dot} />
      <path d="M118,1526 L149,1526" {...solid} />
      <path d="M216,1526 L314,1526" {...dot} />
      <path d="M404,1527 L430,1527 C442,1527 438,1514 450,1514 L492,1514" {...dot} />
      <path d="M216,1526 L235,1526 C242,1526 240,1544 250,1544 L445,1544 C452,1544 450,1539 460,1539 L492,1539" {...dot} />
      <Tri x={82} y={1456} s={5} />
      <Tri x={82} y={1526} s={5} />
      <Tri x={147} y={1456} s={5} />
      <Tri x={147} y={1526} s={5} />
      <Tri x={237} y={1490} s={5} />
      <Tri x={307} y={1472} s={5} />
      <Tri x={312} y={1526} s={5} />
      <Tri x={268} y={1507} dir="l" s={5} />
      {out.map(o => <Tri key={o.label} x={490} y={(o.y1 + o.y2) / 2} s={5.5} />)}

      <rect x={17.5} y={1484} width={35} height={15} fill="#0f2d5c" />
      <text x={35} y={1492} textAnchor="middle" dominantBaseline="central" fontSize={13} fontStyle="italic" fill="#fff">ΔFx</text>
      {ell(101.5, 1456.5, 17, 8, '#0f2d5c', '↗Fx')}
      {ell(101.5, 1526, 17, 8.5, '#0f2d5c', '↘Fx')}
      {ell(176.5, 1456.5, 27.5, 9.5, '#7b4a23', 'Erosion')}
      {ell(266, 1490, 27, 8.5, '#7a5a52', '↗Cmes')}
      {ell(354.6, 1472.5, 44.5, 10.5, '#555a78', '↗Profondeur')}
      {ell(183, 1526, 33, 9, '#7b4a23', 'Accrétion')}
      {ell(360, 1527, 45, 9.5, '#555a78', '↘Profondeur')}

      {out.map(o => (
        <g key={o.label}>
          <rect x={494} y={o.y1} width={o.x2 - 494} height={o.y2 - o.y1} fill="#a9e2a0" stroke={o.border} strokeWidth={1.5} />
          <text x={497} y={(o.y1 + o.y2) / 2 + 1} dominantBaseline="central" fontSize={13.5} fontStyle="italic" fill={o.color}>{o.label}</text>
        </g>
      ))}

      {/* key */}
      <rect x={17} y={1562} width={632} height={21} fill="none" stroke="#888" strokeWidth={1} />
      <path d="M23,1572.5 L44,1572.5" {...solid} strokeWidth={1.2} />
      <Tri x={44} y={1572.5} s={4} />
      <text x={54} y={1573} dominantBaseline="central" fontSize={12.5} fontStyle="italic" fill="#111">Effet de proximité</text>
      <path d="M174,1572.5 L198,1572.5" {...dot} strokeWidth={1.2} />
      <Tri x={199} y={1572.5} s={4} />
      <text x={206} y={1573} dominantBaseline="central" fontSize={12.5} fontStyle="italic" fill="#111">Effet distant</text>
      <rect x={295} y={1566} width={29} height={13} fill="#a9e2a0" stroke="#1d9a1d" strokeWidth={1.5} />
      <text x={328} y={1573} dominantBaseline="central" fontSize={12.5} fontStyle="italic" fill="#111">Positif pour les herbiers</text>
      <rect x={481} y={1566} width={29} height={13} fill="#a9e2a0" stroke="#ff5050" strokeWidth={1.5} />
      <text x={514} y={1573} dominantBaseline="central" fontSize={12.5} fontStyle="italic" fill="#111">Négatif pour les herbiers</text>
    </g>
  );
};

// ---------- symbology (bottom right) ----------
const Symbology = () => {
  const t = (x, y, s, color, size = 12.5) => (
    <text x={x} y={y} dominantBaseline="central" fontSize={size} fontStyle="italic" fill={color}>{s}</text>
  );
  const ptr = (x1, y1, x2, y2, color) => {
    const a = (Math.atan2(y2 - y1, x2 - x1) * 180) / Math.PI;
    return (
      <g>
        <line x1={x1} y1={y1} x2={x2} y2={y2} stroke={color} strokeWidth={0.9} />
        <polygon points="0,0 -7,-2.5 -7,2.5" transform={`translate(${x2},${y2}) rotate(${a})`} fill={color} />
      </g>
    );
  };
  return (
    <g fontFamily={SANS}>
      <text x={663} y={1399} fontSize={14} fontWeight="bold" fontStyle="italic" fill="#111">Symbologie :</text>
      {t(663, 1422, 'Facteur externe', '#8a2a8a')}
      {t(757, 1422, 'Référence/démonstration', '#999933')}
      {t(983, 1431, 'Conséquence de la', '#ff22ff')}
      {t(983, 1443, 'phase de régression', '#ff22ff')}
      {t(683, 1448, 'Effet', '#ff2020')}
      {t(660, 1474, 'Relation', '#2a3aff')}
      {t(658, 1519, 'Phase de régression', '#229922')}
      {t(658, 1542, 'Rétrocontrôles', '#22aadd')}
      {t(658, 1554, 'durant la phase', '#22aadd')}
      {t(658, 1566, 'de régression', '#22aadd')}
      {t(974, 1521, 'Effets sur les zostères', '#c0602a')}
      {t(974, 1533, '(c.f. code diagramme', '#c0602a')}
      {t(974, 1545, 'de gauche)', '#c0602a')}

      {/* drawing */}
      <polygon points="726,1442.5 730,1438 745,1438 749,1442.5 745,1447 730,1447" fill="#444" />
      <line x1={737} y1={1447} x2={737} y2={1478} stroke="#222" strokeWidth={1.2} />
      <Tri x={737} y={1477} dir="d" s={3.5} />
      <rect x={738} y={1453} width={14} height={15} fill="#f4f4e0" stroke="#999933" strokeWidth={1} />
      <Badge x={745} y={1460.5} n={1} r={5} />
      <ellipse cx={737} cy={1486} rx={14.5} ry={6} fill="#444" />
      <path d="M737,1492 L737,1505 Q737,1508 741,1508 L822,1508" fill="none" stroke="#222" strokeWidth={1.5} />
      <Tri x={822} y={1508} s={4} />
      <path d="M857,1509 L980,1509 Q984,1509 984,1504 L984,1489 Q984,1484 989,1484 L1040,1484" fill="none" stroke="#222" strokeWidth={1.5} />
      <Tri x={1039} y={1484} s={4.5} />
      <ellipse cx={1056.7} cy={1484} rx={15} ry={6} fill="#444" />

      <rect x={793} y={1463} width={87} height={89} fill="none" stroke="#33aa33" strokeWidth={1} />
      <rect x={799} y={1467} width={78} height={79} fill="#fff" stroke="#666" strokeWidth={1.5} />
      <rect x={799} y={1467} width={78} height={18} fill="#474747" />
      <polygon points="877,1467 893,1476 877,1485" fill="#777" />
      <rect x={894} y={1467} width={53} height={18} fill="#9a9a9a" />
      <rect x={882} y={1463} width={68} height={25} fill="none" stroke="#ff22ff" strokeWidth={1} />
      <rect x={803} y={1497} width={71} height={45} fill="none" stroke="#44bbe0" strokeWidth={1} />
      <ellipse cx={840.7} cy={1509.7} rx={16} ry={7} fill="#999" stroke="#666" strokeDasharray="1.5,1" />
      <ellipse cx={840.7} cy={1531.5} rx={16} ry={7.5} fill="#999" stroke="#666" strokeDasharray="1.5,1" />
      <path d="M857,1509.7 L862,1509.7 L862,1531.5 L857,1531.5" fill="none" stroke="#222" strokeDasharray="1.5,1" />
      <Tri x={859} y={1531.5} dir="l" s={3.5} />
      <path d="M825,1531.5 L810,1531.5 L810,1509.7 L824,1509.7" fill="none" stroke="#222" strokeDasharray="1.5,1" />

      <rect x={833} y={1439} width={94} height={28} fill="none" stroke="#999933" strokeWidth={1} />
      <path d="M837,1466 L837,1454 Q837,1447 845,1447 L915,1447 Q923,1447 923,1454 L923,1466" fill="none" stroke="#999" strokeWidth={2.5} strokeDasharray="6,3" />
      <Badge x={875} y={1447} n={2} r={5.5} />

      <rect x={908} y={1499} width={42} height={16} fill="none" stroke="#e09060" strokeWidth={1} />
      <rect x={910} y={1501} width={37} height={12} fill="#fff" stroke="#555" strokeWidth={0.8} />
      {[1, 2, 3].map((k, i) => (
        <text key={k} x={911 + i * 12} y={1507.5} dominantBaseline="central" fontSize={10.5} fill={k === 3 ? '#e07030' : refColors[k]}>({k})</text>
      ))}

      {ptr(705, 1429, 725, 1440, '#8a2a8a')}
      {ptr(823, 1428, 753, 1458, '#999933')}
      {ptr(823, 1428, 841, 1439, '#999933')}
      {ptr(697, 1455, 722, 1483, '#ff2020')}
      {ptr(684, 1480, 735, 1505, '#2a3aff')}
      {ptr(772, 1522, 793, 1528, '#229922')}
      {ptr(740, 1553, 803, 1537, '#44bbe0')}
      {ptr(983, 1453, 951, 1465, '#ff22ff')}
      {ptr(973, 1520, 951, 1514, '#c0602a')}
    </g>
  );
};

export default function App() {
  return (
    <svg width={W} height={H} viewBox={`0 0 ${W} ${H}`} style={{ position: 'absolute', left: 0, top: 0, background: '#fff' }}>
      <rect x={0} y={0} width={W} height={H} fill="#fff" />
      {/* panel a */}
      <rect x={6} y={4} width={1129} height={876} fill="none" stroke="#333" strokeWidth={1.5} />
      <text x={9} y={27} fontSize={18.5} fontWeight="bold" fill="#111" fontFamily={SANS}>
        a. Chronologie des évènements ayant eu lieu dans le Bassin d'Arcachon : herbiers, températures, irgarol, mes et cuivre
      </text>
      <ChartA />
      <Timeline />
      {/* panel b */}
      <rect x={6} y={895} width={1129} height={689} fill="none" stroke="#333" strokeWidth={1.5} />
      <text x={12} y={922} fontSize={18.4} fontWeight="bold" fill="#111" fontFamily={SANS}>
        b. Modèle conceptuel des mécanismes de la régression des herbiers de zostères du Bassin d'Arcachon
      </text>
      <ModelB />
      <FxDiagram />
      <Symbology />
    </svg>
  );
}
